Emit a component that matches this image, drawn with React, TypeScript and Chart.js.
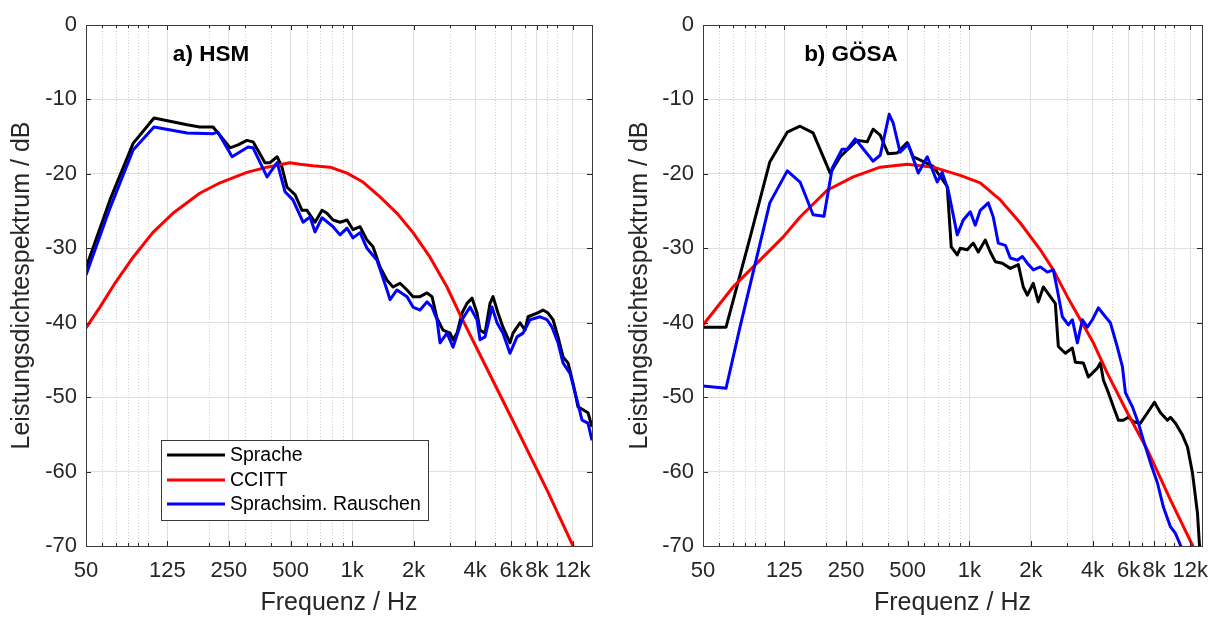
import React, { useEffect, useRef } from 'react';
import { Chart, registerables } from 'chart.js';

Chart.register(...registerables);

const FONT = '"Liberation Sans", Arial, Helvetica, sans-serif';
const AXIS_COLOR = '#262626';

// ---- axes ----
const X_TICKS = [50, 125, 250, 500, 1000, 2000, 4000, 6000, 8000, 12000];
const X_TICK_LABELS = ['50', '125', '250', '500', '1k', '2k', '4k', '6k', '8k', '12k'];
const X_MINOR = [60, 70, 80, 90, 100, 200, 300, 400, 600, 700, 800, 900, 3000, 5000, 7000, 9000, 10000];
const SERIES_LABELS = ['Sprache', 'CCITT', 'Sprachsim. Rauschen'];
const SERIES_COLORS = ['#000000', '#ff0000', '#0000ff'];

// ---- a) HSM ----
const hsmSpracheHz = [50, 65.5, 85, 107.5, 156, 180, 209, 253, 277, 306, 328, 375, 397, 430, 454, 481, 526, 569, 602, 659, 713, 754, 807, 873, 945, 1011, 1094, 1183, 1266, 1370, 1482, 1586, 1716, 1857, 1986, 2149, 2325, 2460, 2602, 2784, 3013, 3117, 3260, 3448, 3648, 3859, 4083, 4224, 4468, 4727, 4888, 5171, 5470, 5918, 6123, 6624, 7008, 7249, 8025, 8585, 9084, 9607, 10165, 10753, 11375, 12034, 12730, 13466, 14246, 14903];
const hsmSpracheDb = [-32.6, -23.5, -15.9, -12.5, -13.4, -13.7, -13.7, -16.5, -16.1, -15.5, -15.7, -18.5, -18.5, -17.7, -19.1, -21.8, -22.8, -24.9, -24.9, -26.5, -24.9, -25.3, -26.2, -26.5, -26.2, -27.5, -27.1, -28.9, -29.8, -32.5, -34.3, -35.2, -34.7, -35.6, -36.5, -36.5, -36.0, -36.5, -39.4, -41.0, -41.4, -42.3, -41.4, -38.7, -37.4, -36.7, -38.7, -41.0, -41.4, -37.4, -36.5, -38.7, -40.6, -42.7, -41.4, -40.0, -41.0, -39.2, -38.7, -38.3, -38.7, -39.6, -41.9, -44.6, -45.4, -48.1, -51.3, -51.7, -52.1, -54.0];

const hsmCcittHz = [50, 58.5, 70, 85, 106, 133, 180, 226, 306, 384, 497, 556, 644, 780, 945, 1131, 1370, 1659, 1986, 2405, 2912, 3372, 4224, 6123, 8982, 12034, 13020];
const hsmCcittDb = [-40.7, -37.9, -34.5, -31.2, -27.9, -25.3, -22.6, -21.2, -19.8, -19.1, -18.5, -18.7, -18.9, -19.1, -19.9, -21.1, -23.1, -25.3, -27.9, -31.2, -35.2, -38.9, -44.3, -53.2, -62.5, -70.0, -71.9];

const hsmRauschHz = [50, 65.5, 85, 107.5, 156, 209, 221, 259, 310, 328, 384, 430, 470, 514, 576, 623, 659, 713, 807, 873, 945, 1011, 1094, 1183, 1324, 1482, 1533, 1659, 1857, 1986, 2149, 2325, 2460, 2602, 2692, 2912, 3117, 3448, 3773, 4083, 4224, 4468, 4834, 5113, 5470, 5918, 6407, 6854, 7415, 8296, 8982, 9498, 10165, 10753, 11635, 12589, 13317, 14246, 14903];
const hsmRauschDb = [-33.6, -24.6, -16.8, -13.7, -14.5, -14.6, -14.4, -17.7, -16.4, -16.5, -20.4, -18.5, -22.4, -23.5, -26.5, -25.8, -27.8, -25.9, -27.1, -28.2, -27.3, -28.6, -27.9, -30.0, -31.6, -35.6, -36.9, -35.6, -36.5, -37.9, -38.3, -37.2, -37.9, -39.6, -42.7, -41.4, -43.3, -39.6, -37.9, -39.6, -42.3, -41.9, -37.9, -40.0, -41.4, -44.1, -41.9, -41.4, -39.6, -39.2, -39.6, -40.6, -42.7, -45.4, -46.8, -50.4, -53.1, -53.5, -55.8];

// ---- b) GÖSA ----
const gosaSpracheHz = [50, 64.8, 85, 106, 129, 149, 172.5, 209, 234, 283, 317, 339, 367, 401, 444, 497, 532, 623, 666, 780, 816, 873, 903, 977, 1045, 1106, 1197, 1266, 1339, 1449, 1586, 1735, 1835, 1920, 2054, 2173, 2299, 2488, 2631, 2722, 2945, 3188, 3296, 3607, 3816, 4224, 4368, 4518, 4780, 5057, 5349, 5659, 5985, 6334, 6854, 7415, 8025, 8585, 9290, 9607, 10165, 10996, 11635, 12310, 13020, 13317, 13466];
const gosaSpracheDb = [-40.6, -40.6, -28.5, -18.4, -14.4, -13.6, -14.5, -19.9, -17.7, -15.5, -15.7, -14.0, -14.8, -17.3, -17.2, -15.8, -17.7, -18.6, -19.0, -21.7, -29.8, -30.9, -30.0, -30.2, -29.3, -30.5, -28.9, -30.5, -31.8, -32.0, -32.7, -32.2, -35.2, -36.3, -34.7, -37.2, -35.2, -36.5, -37.4, -43.2, -44.1, -43.4, -45.3, -45.4, -47.3, -46.1, -45.4, -47.7, -49.4, -51.3, -53.1, -53.1, -52.7, -53.3, -53.5, -52.1, -50.7, -52.1, -53.1, -52.7, -53.5, -55.1, -56.7, -60.2, -65.6, -69.9, -71.9];

const gosaCcittHz = [50, 70.1, 91.8, 123, 149, 202, 271, 367, 497, 666, 903, 1131, 1417, 1775, 2223, 2573, 3013, 3488, 4037, 4727, 5918, 7415, 9607, 12310, 13466];
const gosaCcittDb = [-40.3, -35.2, -32.0, -28.5, -25.8, -22.2, -20.4, -19.1, -18.7, -19.1, -20.2, -21.2, -23.5, -26.6, -30.2, -32.9, -36.5, -39.6, -42.7, -46.8, -52.1, -57.1, -63.8, -69.9, -72.1];

const gosaRauschHz = [50, 64.8, 75.8, 106, 129, 149, 172.5, 195, 214, 239, 253, 277, 339, 367, 406, 425, 459, 503, 563, 623, 697, 737, 789, 873, 934, 1011, 1069, 1131, 1238, 1309, 1385, 1500, 1586, 1716, 1815, 1920, 2054, 2223, 2405, 2573, 2692, 2848, 3047, 3188, 3372, 3567, 3773, 3992, 4271, 4621, 4888, 5290, 5596, 5788, 6262, 6700, 7089, 7671, 8296, 8880, 9607, 10165, 10753, 11249];
const gosaRauschDb = [-48.5, -48.8, -40.6, -23.9, -19.6, -21.1, -25.5, -25.7, -19.2, -16.7, -16.7, -15.3, -18.3, -17.5, -12.0, -13.2, -17.1, -16.0, -19.9, -17.7, -21.1, -19.8, -22.2, -28.2, -26.2, -25.1, -26.9, -24.9, -23.9, -25.8, -29.3, -29.6, -31.3, -31.6, -31.1, -32.0, -32.9, -32.5, -33.2, -32.9, -35.6, -39.2, -40.3, -39.6, -42.7, -39.6, -40.6, -39.6, -38.0, -39.2, -40.0, -43.3, -45.9, -49.4, -51.3, -53.5, -55.8, -58.8, -61.5, -64.8, -67.4, -68.3, -69.9, -71.3];

type Panel = {
  title: string;
  titleX: number;
  xMax: number;
  yAxisWidth: number;
  padRight: number;
  yTitlePad: number;
  legend: boolean;
  series: [number[], number[]][];
};

const HSM: Panel = {
  title: 'a) HSM',
  titleX: 211,
  xMax: 14900,
  yAxisWidth: 86,
  padRight: 12,
  yTitlePad: 10,
  legend: true,
  series: [[hsmSpracheHz, hsmSpracheDb], [hsmCcittHz, hsmCcittDb], [hsmRauschHz, hsmRauschDb]],
};

const GOSA: Panel = {
  title: 'b) GÖSA',
  titleX: 247,
  xMax: 13700,
  yAxisWidth: 99,
  padRight: 6,
  yTitlePad: 24,
  legend: false,
  series: [[gosaSpracheHz, gosaSpracheDb], [gosaCcittHz, gosaCcittDb], [gosaRauschHz, gosaRauschDb]],
};

function pts(hz: number[], db: number[]) {
  return hz.map((f, i) => ({ x: f, y: db[i] }));
}

function makeDecor(panel: Panel) {
  return {
    id: 'decor',
    beforeDatasetsDraw(chart: any) {
      const { ctx, chartArea: a } = chart;
      const x = chart.scales.x;
      ctx.save();
      ctx.strokeStyle = '#cdcdcd';
      ctx.lineWidth = 1;
      ctx.setLineDash([1, 2]);
      for (const f of X_MINOR) {
        if (f <= x.min || f >= x.max) continue;
        const px = Math.round(x.getPixelForValue(f)) + 0.5;
        ctx.beginPath();
        ctx.moveTo(px, a.top);
        ctx.lineTo(px, a.bottom);
        ctx.stroke();
      }
      ctx.restore();
    },
    afterDraw(chart: any) {
      const { ctx, chartArea: a } = chart;
      const x = chart.scales.x;
      const y = chart.scales.y;
      ctx.save();
      ctx.strokeStyle = AXIS_COLOR;
      ctx.lineWidth = 1;
      ctx.beginPath();
      const vTick = (f: number, len: number) => {
        const px = Math.round(x.getPixelForValue(f)) + 0.5;
        ctx.moveTo(px, a.bottom);
        ctx.lineTo(px, a.bottom - len);
        ctx.moveTo(px, a.top);
        ctx.lineTo(px, a.top + len);
      };
      X_TICKS.forEach((f) => vTick(f, 5));
      X_MINOR.forEach((f) => { if (f < x.max) vTick(f, 3); });
      for (let v = -60; v < 0; v += 10) {
        const py = Math.round(y.getPixelForValue(v)) + 0.5;
        ctx.moveTo(a.left, py);
        ctx.lineTo(a.left + 5, py);
        ctx.moveTo(a.right, py);
        ctx.lineTo(a.right - 5, py);
      }
      ctx.stroke();
      ctx.strokeStyle = '#3a3a3a';
      ctx.strokeRect(Math.round(a.left) + 0.5, Math.round(a.top) + 0.5, Math.round(a.right - a.left), Math.round(a.bottom - a.top));

      ctx.fillStyle = '#000';
      ctx.font = `bold 22.5px ${FONT}`;
      ctx.textAlign = 'center';
      ctx.textBaseline = 'middle';
      ctx.fillText(panel.title, panel.titleX, 55);

      if (panel.legend) {
        const bx = 161, by = 440, bw = 267, bh = 80;
        ctx.fillStyle = '#ffffff';
        ctx.fillRect(bx, by, bw, bh);
        ctx.strokeStyle = '#3a3a3a';
        ctx.lineWidth = 1;
        ctx.strokeRect(bx + 0.5, by + 0.5, bw, bh);
        const rows = [455, 480, 504];
        ctx.font = `19.5px ${FONT}`;
        ctx.textAlign = 'left';
        ctx.textBaseline = 'middle';
        SERIES_LABELS.forEach((lab, i) => {
          ctx.strokeStyle = SERIES_COLORS[i];
          ctx.lineWidth = 3;
          ctx.beginPath();
          ctx.moveTo(167, rows[i]);
          ctx.lineTo(225, rows[i]);
          ctx.stroke();
          ctx.fillStyle = '#000';
          ctx.fillText(lab, 230, rows[i] + 1);
        });
      }
      ctx.restore();
    },
  };
}

function buildConfig(panel: Panel): any {
  const orders = [3, 2, 1];
  return {
    type: 'line',
    data: {
      datasets: panel.series.map(([hz, db], i) => ({
        label: SERIES_LABELS[i],
        data: pts(hz, db),
        borderColor: SERIES_COLORS[i],
        backgroundColor: SERIES_COLORS[i],
        borderWidth: 3,
        pointRadius: 0,
        tension: 0,
        fill: false,
        borderJoinStyle: 'round',
        order: orders[i],
      })),
    },
    plugins: [makeDecor(panel)],
    options: {
      animation: false,
      responsive: false,
      events: [],
      layout: { padding: { left: 0, right: panel.padRight, top: 25, bottom: 0 } },
      plugins: { legend: { display: false }, tooltip: { enabled: false } },
      scales: {
        x: {
          type: 'logarithmic',
          min: 50,
          max: panel.xMax,
          afterBuildTicks: (s: any) => {
            s.ticks = X_TICKS.map((v) => ({ value: v }));
          },
          afterFit: (s: any) => {
            s.height = 71;
            s.paddingLeft = 0;
            s.paddingRight = 0;
          },
          ticks: {
            autoSkip: false,
            maxRotation: 0,
            minRotation: 0,
            padding: 12,
            color: AXIS_COLOR,
            font: { family: FONT, size: 22 },
            callback: (_v: any, i: number) => X_TICK_LABELS[i],
          },
          grid: { color: '#dfdfdf', lineWidth: 1, drawTicks: false },
          border: { display: false },
          title: {
            display: true,
            text: 'Frequenz / Hz',
            color: AXIS_COLOR,
            font: { family: FONT, size: 25, lineHeight: 1 },
            padding: { top: 0, bottom: 1.5 },
          },
        },
        y: {
          type: 'linear',
          min: -70,
          max: 0,
          afterFit: (s: any) => {
            s.width = panel.yAxisWidth;
            s.paddingTop = 0;
            s.paddingBottom = 0;
          },
          ticks: {
            stepSize: 10,
            padding: 9,
            color: AXIS_COLOR,
            font: { family: FONT, size: 22 },
          },
          grid: { color: '#dfdfdf', lineWidth: 1, drawTicks: false },
          border: { display: false },
          title: {
            display: true,
            text: 'Leistungsdichtespektrum / dB',
            color: AXIS_COLOR,
            font: { family: FONT, size: 25, lineHeight: 1 },
            padding: { top: panel.yTitlePad, bottom: 0 },
          },
        },
      },
    },
  };
}

function PanelChart({ panel, left }: { panel: Panel; left: number }) {
  const ref = useRef<HTMLCanvasElement>(null);
  useEffect(() => {
    const chart = new Chart(ref.current as HTMLCanvasElement, buildConfig(panel));
    return () => chart.destroy();
  }, [panel]);
  return (
    <canvas
      ref={ref}
      width={604}
      height={617}
      style={{ position: 'absolute', left, top: 0, width: 604, height: 617, display: 'block' }}
    />
  );
}

export default function App() {
  return (
    <div style={{ position: 'fixed', left: 0, top: 0, width: 1208, height: 617, background: '#ffffff', overflow: 'hidden' }}>
      <PanelChart panel={HSM} left={0} />
      <PanelChart panel={GOSA} left={604} />
    </div>
  );
}
